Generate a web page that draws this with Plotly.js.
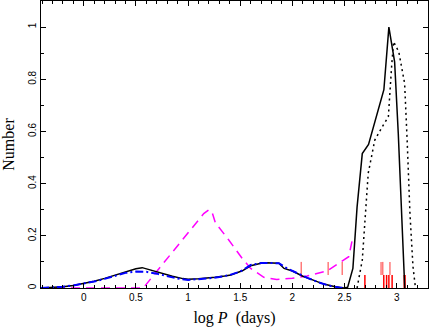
<!DOCTYPE html>
<html>
<head>
<meta charset="utf-8">
<script src="https://cdn.plot.ly/plotly-3.0.1.min.js"></script>
<style>
  html, body { margin: 0; padding: 0; background: #fff; }
  #plot { width: 429px; height: 327px; }
</style>
</head>
<body>
<div id="plot"></div>
<script>
// solid black curve
var solidX = [-0.41, -0.3, -0.2, -0.1, 0, 0.1, 0.2, 0.3, 0.4, 0.5, 0.56, 0.65, 0.75, 0.85, 0.95, 1.0, 1.1, 1.2, 1.26, 1.35, 1.41, 1.52, 1.6, 1.7, 1.75, 1.87, 1.92, 2.0, 2.1, 2.2, 2.3, 2.4, 2.49, 2.53, 2.58, 2.62, 2.67, 2.73, 2.8, 2.877, 2.925, 2.98, 3.015, 3.077];
var solidY = [0, 0.002, 0.005, 0.01, 0.018, 0.026, 0.037, 0.05, 0.063, 0.074, 0.078, 0.068, 0.055, 0.045, 0.036, 0.034, 0.035, 0.038, 0.041, 0.046, 0.05, 0.066, 0.085, 0.095, 0.097, 0.095, 0.075, 0.065, 0.045, 0.03, 0.015, 0.006, 0, 0.003, 0.075, 0.31, 0.515, 0.55, 0.65, 0.76, 1.0, 0.867, 0.593, 0];

// dotted black curve
var dotX = [2.62, 2.67, 2.727, 2.79, 2.862, 2.92, 2.951, 2.97, 3.02, 3.076, 3.1, 3.127, 3.156, 3.18];
var dotY = [0, 0.107, 0.44, 0.567, 0.618, 0.656, 0.848, 0.944, 0.905, 0.784, 0.567, 0.286, 0.082, 0];

// blue dash-dot curve
var blueX = [-0.41, -0.3, -0.2, -0.1, 0, 0.1, 0.2, 0.3, 0.4, 0.5, 0.6, 0.7, 0.8, 0.9, 1.0, 1.1, 1.2, 1.3, 1.4, 1.5, 1.6, 1.7, 1.8, 1.87, 1.95, 2.05, 2.15, 2.25, 2.35, 2.45, 2.49];
var blueY = [0, 0.002, 0.005, 0.01, 0.017, 0.025, 0.035, 0.047, 0.058, 0.063, 0.062, 0.055, 0.045, 0.036, 0.031, 0.033, 0.037, 0.042, 0.05, 0.063, 0.088, 0.096, 0.097, 0.095, 0.075, 0.055, 0.038, 0.022, 0.009, 0.002, 0];

// magenta dashed curve
var magX = [-0.41, 0.57, 1.15, 1.2, 1.23, 1.262, 1.39, 1.518, 1.6, 1.726, 1.85, 2.0, 2.14, 2.33, 2.49, 2.54, 2.574];
var magY = [0, 0, 0.285, 0.3, 0.29, 0.25, 0.184, 0.114, 0.075, 0.041, 0.033, 0.037, 0.046, 0.065, 0.107, 0.12, 0.184];

// observed periods (tick marks)
var upperTicks = [2.085, 2.343, 2.478, 2.85, 2.866, 2.935];
var lowerTicks = [2.695, 2.876, 2.903, 2.925, 2.956, 3.072, 3.08];

function tickTrace(xs, y0, y1, color) {
  var x = [], y = [];
  xs.forEach(function (v) {
    x.push(v, v, null);
    y.push(y0, y1, null);
  });
  return {
    x: x, y: y, type: 'scatter', mode: 'lines',
    line: { color: color, width: 1.5 }, hoverinfo: 'skip'
  };
}

var data = [
  tickTrace(upperTicks, 0.05, 0.1, '#ff7a7a'),
  tickTrace(lowerTicks, 0, 0.05, '#ff0000'),
  {
    x: magX, y: magY, type: 'scatter', mode: 'lines',
    line: { color: '#ff00ff', width: 1.5, dash: '9px,6px' }
  },
  {
    x: solidX, y: solidY, type: 'scatter', mode: 'lines',
    line: { color: '#000000', width: 1.5 }
  },
  {
    x: blueX, y: blueY, type: 'scatter', mode: 'lines',
    line: { color: '#0000ff', width: 2, dash: '8px,3px,2px,3px' }
  },
  {
    x: dotX, y: dotY, type: 'scatter', mode: 'lines',
    line: { color: '#000000', width: 1.5, dash: '2px,3.5px' }
  }
];

var tickFont = { family: 'Liberation Sans, Arial, sans-serif', size: 10, color: '#000' };
var titleFont = { family: 'Liberation Serif, Times New Roman, serif', size: 16, color: '#000' };

var layout = {
  width: 429,
  height: 327,
  margin: { l: 41, r: 1, t: 1, b: 39 },
  paper_bgcolor: '#fff',
  plot_bgcolor: '#fff',
  showlegend: false,
  xaxis: {
    range: [-0.41, 3.3],
    dtick: 0.5,
    tick0: 0,
    ticks: 'inside',
    ticklen: 5,
    tickcolor: '#000',
    showline: true,
    linecolor: '#000',
    linewidth: 1,
    mirror: 'ticks',
    showgrid: false,
    zeroline: false,
    tickfont: tickFont,
    minor: { dtick: 0.1, tick0: 0, ticks: 'inside', ticklen: 3, tickcolor: '#000', showgrid: false },
    title: { text: 'log <i>P</i>\u00a0\u00a0(days)', font: titleFont, standoff: 10 }
  },
  yaxis: {
    range: [0, 1.1],
    dtick: 0.2,
    tick0: 0,
    ticks: 'inside',
    ticklen: 5,
    tickcolor: '#000',
    tickangle: -90,
    showline: true,
    linecolor: '#000',
    linewidth: 1,
    mirror: 'ticks',
    showgrid: false,
    zeroline: false,
    tickfont: tickFont,
    minor: { dtick: 0.1, tick0: 0, ticks: 'inside', ticklen: 3, tickcolor: '#000', showgrid: false },
    title: { text: 'Number', font: titleFont, standoff: 12 }
  }
};

Plotly.newPlot('plot', data, layout, { staticPlot: true });
</script>
</body>
</html>
